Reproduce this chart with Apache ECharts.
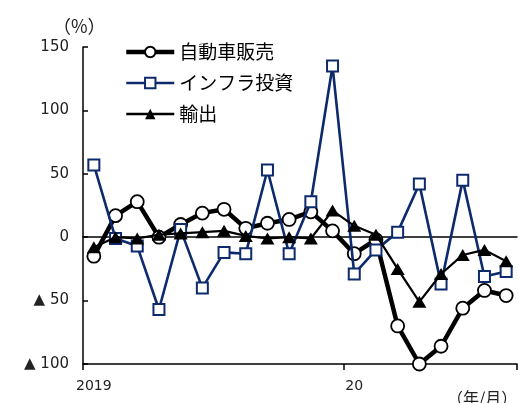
<!DOCTYPE html>
<html>
<head>
<meta charset="utf-8">
<script src="https://cdn.jsdelivr.net/npm/echarts@6/dist/echarts.min.js"></script>
<style>
  html, body { margin: 0; padding: 0; background: #fff; }
  #chart { width: 519px; height: 403px; }
</style>
</head>
<body>
<div id="chart"></div>
<script>
// Months from 2019/1 to 2020/8; only the first month of each year is labelled
const months = ['2019', '2', '3', '4', '5', '6', '7', '8', '9', '10', '11', '12',
                '20', '2', '3', '4', '5', '6', '7', '8'];
const yearStartIdx = [0, 12];

// Year-on-year change (%)
const autoSales = [-15, 17, 28, 0, 10, 19, 22, 7, 11, 14, 20, 5, -13, -2, -70, -100, -86, -56, -42, -46];
const infraInvest = [57, -1, -7, -57, 6, -40, -12, -13, 53, -13, 28, 135, -29, -10, 4, 42, -37, 45, -31, -27];
const exportsYoY = [-8, 0, -1, 2, 3, 4, 5, 1, -1, 0, -1, 21, 9, 2, -25, -51, -29, -14, -10, -19];

const yTicks = { min: -100, max: 150, step: 50 };

const NAVY = '#0c2a6c';
const NUM_FONT = 'DejaVu Sans';
const JP_FONT = 'Noto Sans CJK JP';

const chart = echarts.init(document.getElementById('chart'), null, { renderer: 'canvas' });

chart.setOption({
  animation: false,
  backgroundColor: '#fff',
  grid: { left: 83, right: 2, top: 47, bottom: 39, containLabel: false },
  legend: {
    orient: 'vertical',
    left: 119,
    top: 37,
    itemWidth: 48,
    itemHeight: 13,
    itemGap: 11,
    textStyle: { fontFamily: JP_FONT, fontSize: 19, color: '#000', lineHeight: 20 },
    data: [
      { name: '自動車販売', lineStyle: { width: 4.5, color: '#000' } },
      { name: 'インフラ投資', lineStyle: { width: 2.6, color: NAVY } },
      { name: '輸出', lineStyle: { width: 2.6, color: '#000' } }
    ]
  },
  xAxis: [
    {
      type: 'category',
      data: months,
      boundaryGap: true,
      axisLine: { onZero: false, lineStyle: { color: '#000', width: 1.5 } },
      axisTick: {
        show: true,
        length: 6,
        inside: false,
        interval: (i) => yearStartIdx.includes(i),
        lineStyle: { color: '#000', width: 1.5 }
      },
      axisLabel: {
        interval: (i) => yearStartIdx.includes(i),
        margin: 15,
        fontFamily: NUM_FONT,
        fontSize: 14,
        color: '#222'
      },
      splitLine: { show: false }
    },
    {
      // zero reference line across the plot
      type: 'category',
      data: months,
      position: 'bottom',
      axisLine: { onZero: true, lineStyle: { color: '#000', width: 1.5 } },
      axisTick: { show: false },
      axisLabel: { show: false },
      splitLine: { show: false }
    }
  ],
  yAxis: {
    type: 'value',
    min: yTicks.min,
    max: yTicks.max,
    interval: yTicks.step,
    axisLine: { show: true, lineStyle: { color: '#000', width: 1.5 } },
    axisTick: { show: true, inside: true, length: 5, lineStyle: { color: '#000', width: 1.5 } },
    axisLabel: {
      margin: 14,
      fontFamily: NUM_FONT,
      fontSize: 15,
      color: '#222',
      formatter: (v) => (v < 0 ? '▲ ' + (-v) : String(v))
    },
    splitLine: { show: false }
  },
  graphic: [
    {
      type: 'text',
      left: 53,
      top: 17,
      style: { text: '（%）', font: '18px "Noto Sans CJK JP"', fill: '#222' }
    },
    {
      type: 'text',
      left: 447,
      top: 390,
      style: { text: '（年/月）', font: '16px "Noto Sans CJK JP"', fill: '#222' }
    }
  ],
  series: [
    {
      name: '自動車販売',
      type: 'line',
      data: autoSales,
      symbol: 'circle',
      symbolSize: 13,
      z: 2,
      lineStyle: { color: '#000', width: 4.5 },
      itemStyle: { color: '#fff', borderColor: '#000', borderWidth: 1.8 }
    },
    {
      name: 'インフラ投資',
      type: 'line',
      data: infraInvest,
      symbol: 'rect',
      symbolSize: 11,
      z: 3,
      lineStyle: { color: NAVY, width: 2.6 },
      itemStyle: { color: '#fff', borderColor: NAVY, borderWidth: 2 }
    },
    {
      name: '輸出',
      type: 'line',
      data: exportsYoY,
      symbol: 'triangle',
      symbolSize: [14, 12],
      z: 4,
      lineStyle: { color: '#000', width: 2.2 },
      itemStyle: { color: '#000', borderColor: '#000', borderWidth: 0 }
    }
  ]
});
</script>
</body>
</html>
